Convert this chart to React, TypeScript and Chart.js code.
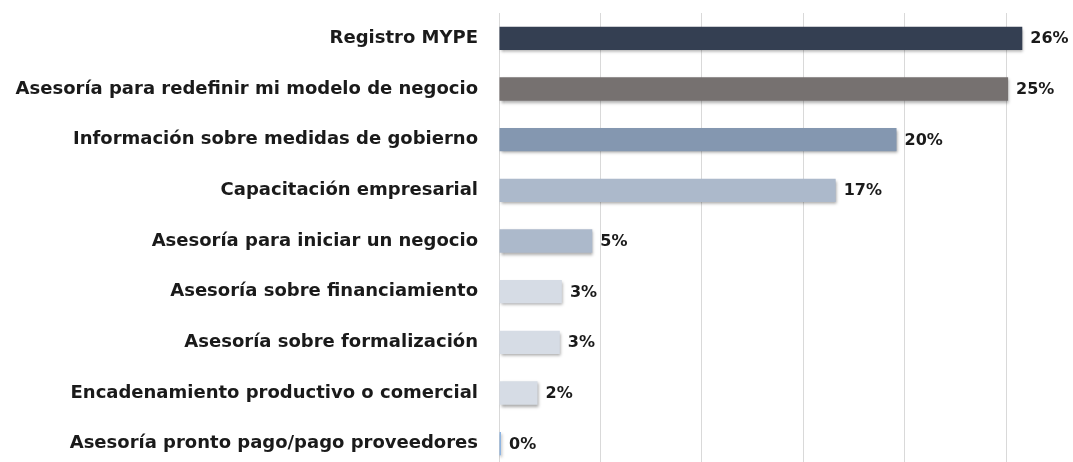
import React, { useEffect, useRef } from "react";
import { Chart, registerables } from "chart.js";

Chart.register(...registerables);

const categories = [
  "Registro MYPE",
  "Asesoría para redefinir mi modelo de negocio",
  "Información sobre medidas de gobierno",
  "Capacitación empresarial",
  "Asesoría para iniciar un negocio",
  "Asesoría sobre financiamiento",
  "Asesoría sobre formalización",
  "Encadenamiento productivo o comercial",
  "Asesoría pronto pago/pago proveedores",
];

const values = [25.8, 25.1, 19.6, 16.6, 4.6, 3.1, 3.0, 1.9, 0.1];

const valueLabels = ["26%", "25%", "20%", "17%", "5%", "3%", "3%", "2%", "0%"];

const barColors = [
  "#343f52",
  "#767170",
  "#8497b0",
  "#acb9cb",
  "#acb9cb",
  "#d6dce5",
  "#d6dce5",
  "#d6dce5",
  "#8db4e2",
];

const FONT = "'DejaVu Sans', sans-serif";

export default function App() {
  const ref = useRef<HTMLCanvasElement | null>(null);

  useEffect(() => {
    if (!ref.current) return;
    const shadowPlugin = {
      id: "barShadow",
      beforeDatasetsDraw(chart: any) {
        const ctx = chart.ctx;
        ctx.save();
        ctx.shadowColor = "rgba(0,0,0,0.35)";
        ctx.shadowBlur = 3;
        ctx.shadowOffsetX = 1;
        ctx.shadowOffsetY = 2;
      },
      afterDatasetsDraw(chart: any) {
        chart.ctx.restore();
      },
    };
    const labelPlugin = {
      id: "valueLabels",
      afterDatasetsDraw(chart: any) {
        const ctx = chart.ctx;
        const meta = chart.getDatasetMeta(0);
        ctx.save();
        ctx.font = `bold 16px ${FONT}`;
        ctx.fillStyle = "#1a1a1a";
        ctx.textAlign = "left";
        ctx.textBaseline = "middle";
        meta.data.forEach((bar: any, i: number) => {
          ctx.fillText(valueLabels[i], bar.x + 8, bar.y + 1);
        });
        ctx.restore();
      },
    };
    const chart = new Chart(ref.current, {
      type: "bar",
      data: {
        labels: categories,
        datasets: [
          {
            data: values,
            backgroundColor: barColors,
            borderWidth: 0,
            barPercentage: 0.46,
            categoryPercentage: 1,
          },
        ],
      },
      options: {
        indexAxis: "y",
        responsive: false,
        animation: false,
        devicePixelRatio: 1,
        layout: { padding: { top: 13, right: 0, bottom: 0, left: 0 } },
        plugins: {
          legend: { display: false },
          tooltip: { enabled: false },
        },
        scales: {
          x: {
            min: 0,
            max: 28.3,
            ticks: { display: false, stepSize: 5 },
            grid: {
              drawTicks: false,
              color: (c: any) =>
                c.tick && c.tick.value % 5 === 0 ? "#d9d9d9" : "rgba(0,0,0,0)",
              lineWidth: 1,
            },
            border: { display: false },
            afterFit: (s: any) => {
              s.height = 0;
              s.paddingLeft = 0;
              s.paddingRight = 0;
            },
          },
          y: {
            grid: { display: false, drawTicks: false },
            border: { display: false },
            ticks: {
              padding: 21,
              color: "#1a1a1a",
              font: { family: FONT, size: 18, weight: "bold" },
            },
            afterFit: (s: any) => {
              s.width = 499;
              s.paddingTop = 0;
              s.paddingBottom = 0;
            },
          },
        },
      },
      plugins: [shadowPlugin, labelPlugin],
    });
    return () => chart.destroy();
  }, []);

  return (
    <div
      style={{
        position: "absolute",
        left: 0,
        top: 0,
        width: 1073,
        height: 462,
        overflow: "hidden",
      }}
    >
      <canvas ref={ref} width={1073} height={469} style={{ display: "block" }} />
    </div>
  );
}
